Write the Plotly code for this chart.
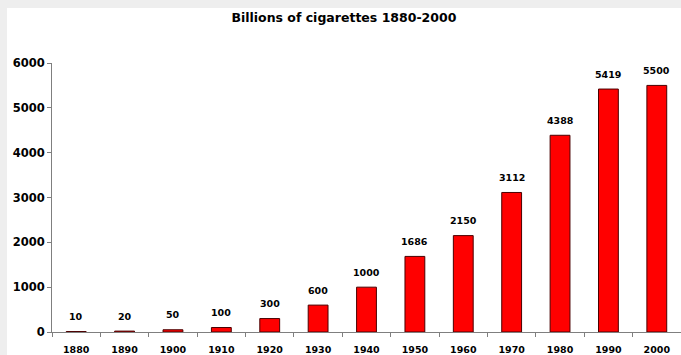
import plotly.graph_objects as go

years = ["1880", "1890", "1900", "1910", "1920", "1930", "1940",
         "1950", "1960", "1970", "1980", "1990", "2000"]
cigarettes = [10, 20, 50, 100, 300, 600, 1000, 1686, 2150, 3112, 4388, 5419, 5500]
y_ticks = [0, 1000, 2000, 3000, 4000, 5000, 6000]
title_text = "Billions of cigarettes 1880-2000"

W, H = 681, 355
FONT = "DejaVu Sans"

fig = go.Figure()
fig.add_trace(go.Bar(
    x=years, y=cigarettes,
    marker=dict(color="#ff0000", line=dict(color="#4a0000", width=1)),
    width=0.41,
    hoverinfo="x+y",
))

for i, v in enumerate(cigarettes):
    fig.add_annotation(
        x=i, y=v, xref="x", yref="y", text=f"<b>{v}</b>", showarrow=False,
        yshift=15, yanchor="middle", xanchor="center",
        font=dict(family=FONT, size=9.5, color="#000000"),
    )

# light gray border strips (top and left) as in the reference
fig.add_shape(type="rect", xref="paper", yref="paper",
              x0=-52 / 629, x1=1.01, y0=1 + 55 / 269, y1=1 + 63 / 269,
              fillcolor="#eeeeee", line=dict(width=0), layer="below")
fig.add_shape(type="rect", xref="paper", yref="paper",
              x0=-52 / 629, x1=-45 / 629, y0=-23 / 269, y1=1 + 63 / 269,
              fillcolor="#eeeeee", line=dict(width=0), layer="below")

fig.update_layout(
    width=W, height=H,
    margin=dict(l=52, r=0, t=63, b=23, autoexpand=False),
    paper_bgcolor="#ffffff",
    plot_bgcolor="#ffffff",
    showlegend=False,
    title=dict(text=f"<b>{title_text}</b>", x=0.505, xanchor="center",
               y=1 - 18 / H, yanchor="middle",
               font=dict(family=FONT, size=12.5, color="#000000")),
    xaxis=dict(
        type="category", range=[-0.5, 12.5],
        showline=True, linecolor="#7f7f7f", linewidth=1,
        ticks="outside", ticklen=4, tickcolor="#7f7f7f", tickson="boundaries",
        showgrid=False, zeroline=False,
        tickfont=dict(family=FONT, size=9.5, color="#000000"),
        ticktext=[f"<b>{y}</b>" for y in years], tickvals=years,
        ticklabelstandoff=9,
        automargin=False,
    ),
    yaxis=dict(
        range=[0, 6000], tickvals=y_ticks,
        ticktext=[f"<b>{t}</b>" for t in y_ticks],
        showline=True, linecolor="#7f7f7f", linewidth=1,
        ticks="outside", ticklen=4, tickcolor="#7f7f7f",
        showgrid=False, zeroline=False,
        tickfont=dict(family=FONT, size=11.5, color="#000000"),
        automargin=False,
    ),
)

fig.write_html("out.html", config={"displayModeBar": False})

# remove the browser's default page margin so the figure sits at the top-left corner
with open("out.html", "r", encoding="utf-8") as f:
    html = f.read()
html = html.replace("<head>", "<head><style>html,body{margin:0;padding:0;overflow:hidden;}</style>", 1)
with open("out.html", "w", encoding="utf-8") as f:
    f.write(html)
